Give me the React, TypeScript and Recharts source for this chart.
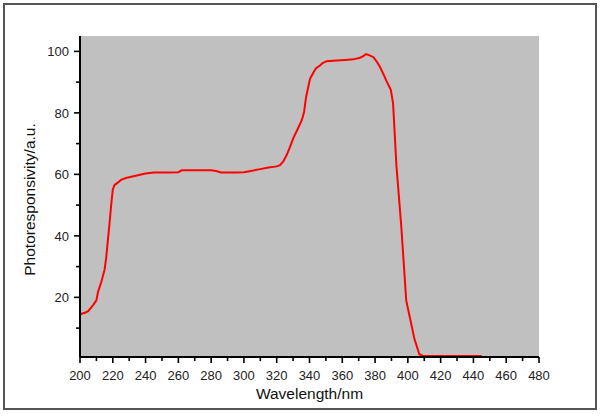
import { LineChart, Line, XAxis, YAxis, CartesianGrid } from "recharts";

// Photoresponsivity spectrum
const wavelengths = [
  200, 203, 205, 208, 210, 211, 213, 215, 216, 217, 218, 219, 220, 221, 223, 225, 228, 232, 236, 240,
  245, 250, 255, 260, 262, 270, 280, 283, 286, 295, 300, 305, 310, 315, 320, 322, 324, 326, 328, 330,
  333, 335.3, 336.7, 337.9, 340.3, 342.4, 344, 346.4, 348, 350.5, 356.6, 362, 366.8, 370.8, 372.5,
  374.5, 377, 379, 381, 383, 385, 387, 389.6, 391, 393, 396, 399, 401, 404, 407, 409, 410, 420, 430,
  440, 445,
];
const responsivity = [
  14.5, 15, 15.5, 17.5, 19, 21.8, 25, 29, 33, 38.6, 44, 50, 55, 56.5, 57.3, 58.2, 58.8, 59.3, 59.8, 60.3,
  60.6, 60.6, 60.6, 60.7, 61.3, 61.3, 61.3, 61.1, 60.6, 60.6, 60.7, 61.2, 61.7, 62.2, 62.6, 63, 64.2, 66.2,
  68.8, 71.6, 75, 77.6, 80.3, 85.1, 91.1, 93.1, 94.5, 95.4, 96.2, 96.8, 97, 97.2, 97.4, 97.9, 98.4,
  99.1, 98.6, 98.1, 96.7, 94.9, 92.7, 90.3, 87.5, 83, 63, 43, 19, 14, 6.5, 1.5, 1, 0.9, 0.9, 0.9,
  0.9, 0.9,
];

const xTicks = [
  200, 210, 220, 230, 240, 250, 260, 270, 280, 290, 300, 310, 320, 330, 340, 350, 360, 370, 380, 390,
  400, 410, 420, 430, 440, 450, 460, 470, 480,
];
const yTicks = [10, 20, 30, 40, 50, 60, 70, 80, 90, 100];

const data = wavelengths.map((w, i) => ({ w, r: responsivity[i] }));

const FONT = "'Liberation Sans', Arial, sans-serif";

// bottom axis tick: long mark + label every 20 nm, short mark in between
function XTick({ x, y, payload }: any) {
  const major = payload.value % 20 === 0;
  return (
    <g>
      <line x1={x} x2={x} y1={y} y2={y + (major ? 6 : 4)} stroke="#000" strokeWidth={1.6} />
      {major && (
        <text x={x} y={y + 23} textAnchor="middle" fontSize={13} fill="#222" fontFamily={FONT}>
          {payload.value}
        </text>
      )}
    </g>
  );
}

function YTick({ x, y, payload }: any) {
  const major = payload.value % 20 === 0;
  return (
    <g>
      <line x1={x} x2={x - (major ? 6 : 4)} y1={y} y2={y} stroke="#000" strokeWidth={1.6} />
      {major && (
        <text x={x - 11} y={y} dy="0.36em" textAnchor="end" fontSize={13} fill="#222" fontFamily={FONT}>
          {payload.value}
        </text>
      )}
    </g>
  );
}

export default function App() {
  return (
    <div style={{ position: "absolute", left: 0, top: 0, width: 600, height: 416, background: "#fff" }}>
      <div
        style={{
          position: "absolute",
          left: 3,
          top: 3,
          width: 590,
          height: 403,
          border: "2px solid #555",
        }}
      />
      <LineChart
        width={600}
        height={416}
        data={data}
        margin={{ top: 36, right: 61, bottom: 0, left: 0 }}
        style={{ position: "absolute", left: 0, top: 0 }}
      >
        <CartesianGrid horizontal={false} vertical={false} fill="#C0C0C0" stroke="none" />
        <XAxis
          dataKey="w"
          type="number"
          domain={[200, 480]}
          ticks={xTicks}
          interval={0}
          tickSize={0}
          tickMargin={0}
          tickLine={false}
          tick={<XTick />}
          axisLine={{ stroke: "#000", strokeWidth: 2 }}
          height={59}
          label={{
            content: ({ viewBox }: any) => (
              <text
                x={viewBox.x + viewBox.width / 2}
                y={viewBox.y + 42}
                textAnchor="middle"
                fontSize={15.5}
                fill="#111"
                fontFamily={FONT}
              >
                Wavelength/nm
              </text>
            ),
          }}
        />
        <YAxis
          type="number"
          domain={[0.6, 105]}
          allowDataOverflow
          ticks={yTicks}
          interval={0}
          tickSize={0}
          tickMargin={0}
          tickLine={false}
          tick={<YTick />}
          axisLine={{ stroke: "#000", strokeWidth: 2 }}
          width={80}
          label={{
            content: ({ viewBox }: any) => {
              const cx = 35;
              const cy = viewBox.y + viewBox.height / 2 + 3;
              return (
                <text
                  x={cx}
                  y={cy}
                  transform={`rotate(-90 ${cx} ${cy})`}
                  textAnchor="middle"
                  fontSize={15.5}
                  fill="#111"
                  fontFamily={FONT}
                >
                  Photoresponsivity/a.u.
                </text>
              );
            },
          }}
        />
        <Line
          type="linear"
          dataKey="r"
          stroke="#FF0000"
          strokeWidth={2}
          dot={false}
          activeDot={false}
          isAnimationActive={false}
        />
      </LineChart>
    </div>
  );
}
